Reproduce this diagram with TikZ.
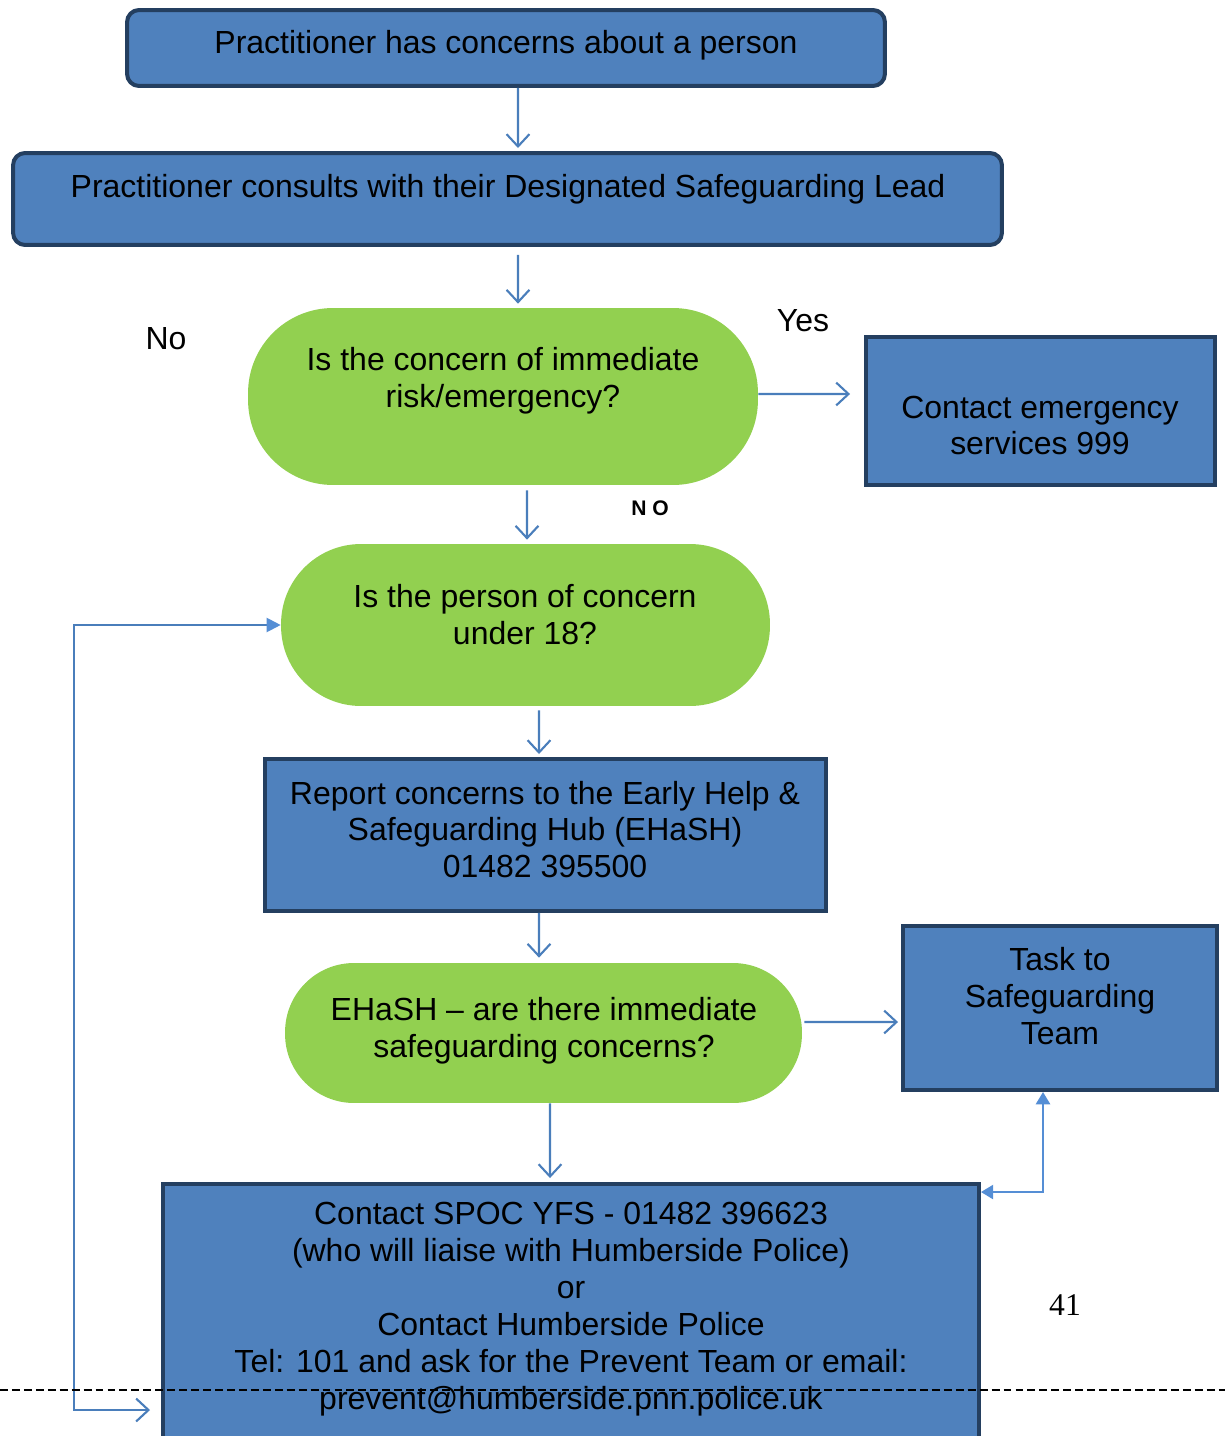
\documentclass[tikz,border=0pt]{standalone}
\usepackage{fontspec}
\setmainfont{Liberation Sans}
\newfontfamily\pagefont{Liberation Serif}
\usetikzlibrary{arrows.meta,positioning}
\definecolor{boxblue}{HTML}{4F81BD}
\definecolor{boxedge}{HTML}{243F60}
\definecolor{qgreen}{HTML}{92D050}
\definecolor{linkblue}{HTML}{4A7EBB}
\definecolor{tipblue}{HTML}{558ED5}

\begin{document}
\begin{tikzpicture}[x=0.02cm,y=-0.02cm,
	bluebox/.style={draw=boxedge, fill=boxblue, line width=0.08cm},
	greenbox/.style={fill=qgreen},
	txt/.style={align=center, font=\fontsize{18.2}{21}\selectfont},
	arr/.style={-{Straight Barb[length=7pt,width=13pt]}, linkblue, line width=1.2pt},
	tri/.style={tipblue, line width=1.4pt},
	cutline/.style={black, line width=0.8pt, dash pattern=on 4.5pt off 2.3pt}]
	\useasboundingbox (0,0) rectangle (1225,1436);

	% boxes
	\node[bluebox, rounded corners=0.24cm, minimum width=15.16cm, minimum height=1.52cm] (P1) at (506,48) {};
	\node[bluebox, rounded corners=0.24cm, minimum width=19.78cm, minimum height=1.84cm] (P2) at (507.5,199) {};
	\node[greenbox, rounded corners=1.7cm, minimum width=10.2cm, minimum height=3.54cm] (Q1) at (503,396.5) {};
	\node[bluebox, minimum width=6.98cm, minimum height=2.96cm] (E) at (1040.5,411) {};
	\node[greenbox, rounded corners=1.6cm, minimum width=9.78cm, minimum height=3.24cm] (Q2) at (525.5,625) {};
	\node[bluebox, minimum width=11.22cm, minimum height=3.04cm] (R) at (545.5,835) {};
	\node[greenbox, rounded corners=1.38cm, minimum width=10.34cm, minimum height=2.8cm] (Q3) at (543.5,1033) {};
	\node[bluebox, minimum width=6.28cm, minimum height=3.28cm] (T) at (1060,1008) {};
	\node[bluebox, minimum width=16.32cm, minimum height=5.72cm] (S) at (571,1327) {};

	% texts
	\node[txt] (p1) at (506,45) {Practitioner has concerns about a person};
	\node[txt] (p2) at (508,189) {Practitioner consults with their Designated Safeguarding Lead};
	\node[txt] (q1) at (503,380.5) {Is the concern of immediate\\risk/emergency?};
	\node[txt] (e) at (1040,425.5) {Contact emergency\\services 999};
	\node[txt] (q2) at (525,614.5) {Is the person of concern\\under 18?};
	\node[txt] (r) at (545,829.5) {Report concerns to the Early Help \&\\Safeguarding Hub (EHaSH)\\01482 395500};
	\node[txt] (q3) at (544,1030.5) {EHaSH – are there immediate\\safeguarding concerns?};
	\node[txt] (t) at (1060,996) {Task to\\Safeguarding\\Team};
	\node[txt] (s) at (571,1309) {Contact SPOC YFS - 01482 396623\\(who will liaise with Humberside Police)\\or\\Contact Humberside Police\\Tel: 101 and ask for the Prevent Team or email:\\prevent@humberside.pnn.police.uk};
	\node[txt] (yes) at (803,321) {Yes};
	\node[txt] (no) at (166,339) {No};
	\node[font=\bfseries\fontsize{12}{14}\selectfont] (no2) at (650,508) {N O};
	\node[font=\pagefont\fontsize{18}{21}\selectfont] (pg) at (1065,1305) {41};

	% arrows
	\draw[arr, shorten >=0.06cm] ([xshift=0.24cm]P1.south) -- ([xshift=0.21cm]P2.north);
	\draw[arr, shorten <=0.16cm, shorten >=0.08cm] ([xshift=0.21cm]P2.south) -- ([xshift=0.3cm]Q1.north);
	\draw[arr, shorten >=0.28cm] ([yshift=0.05cm]Q1.east) -- ([yshift=0.34cm]E.west);
	\draw[arr, shorten <=0.1cm, shorten >=0.08cm] ([xshift=0.48cm]Q1.south) -- ([xshift=0.03cm]Q2.north);
	\draw[arr, shorten <=0.08cm, shorten >=0.06cm] ([xshift=0.27cm]Q2.south) -- ([xshift=-0.13cm]R.north);
	\draw[arr, shorten >=0.1cm] ([xshift=-0.13cm]R.south) -- ([xshift=-0.09cm]Q3.north);
	\draw[arr, shorten <=0.04cm, shorten >=0.06cm] ([yshift=0.22cm]Q3.east) -- ([yshift=-0.28cm]T.west);
	\draw[arr, shorten >=0.08cm] ([xshift=0.13cm]Q3.south) -- ([xshift=-0.42cm]S.north);
	\draw[tri, {Triangle[length=7pt,width=8pt]}-{Triangle[length=7pt,width=8pt]}] ([xshift=-0.34cm]T.south) |- ([yshift=-0.2cm]S.north east);
	\coordinate (F1) at (74,1410);
	\coordinate (F2) at (150,1410);
	\draw[arr, {Triangle[length=8pt,width=8pt,color=tipblue]}-{Straight Barb[length=7pt,width=13pt]}] (Q2.west) -| (F1) -- (F2);

	\draw[cutline] (0,1390) -- (1225,1390);
\end{tikzpicture}
\end{document}
